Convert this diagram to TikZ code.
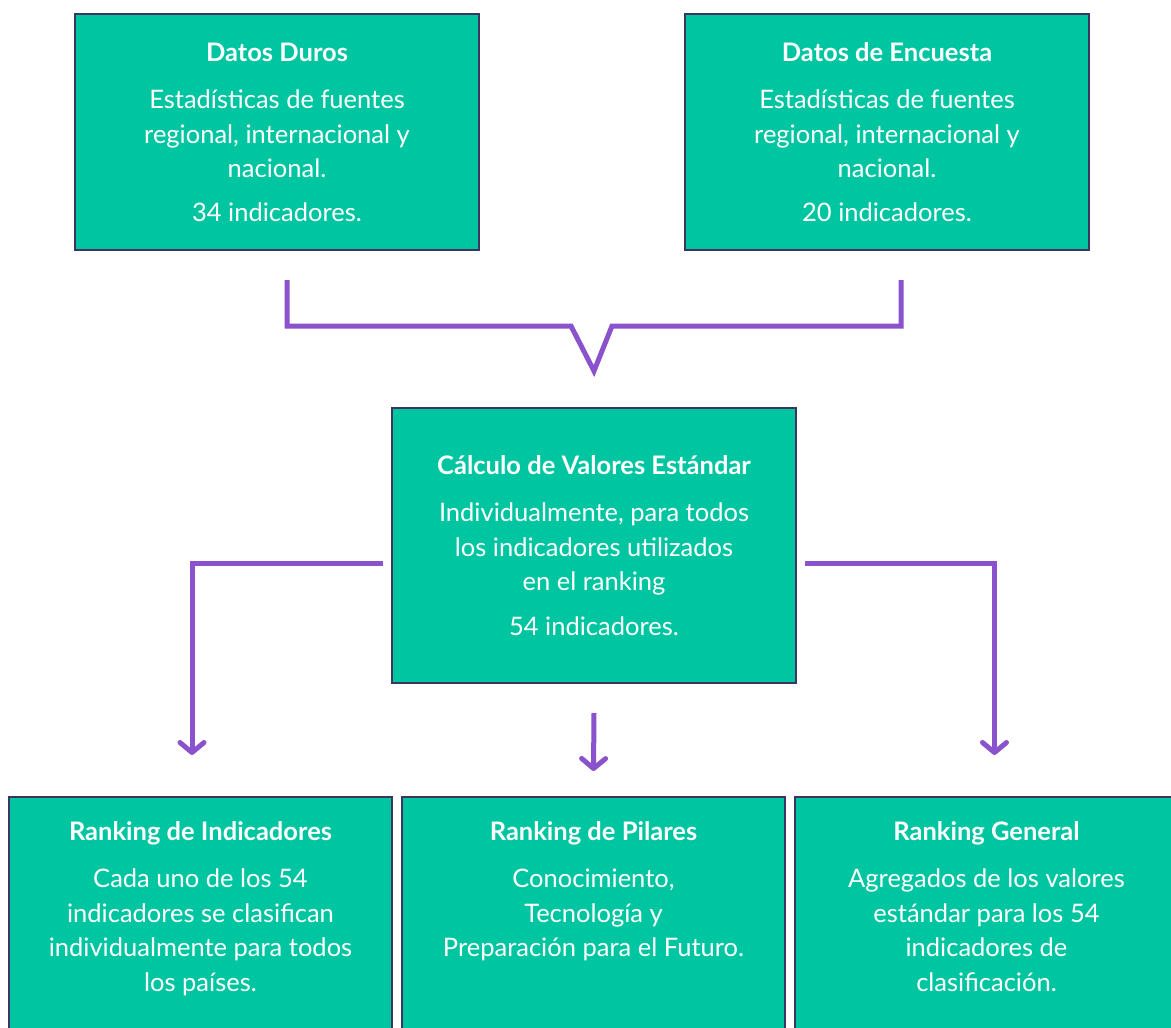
\documentclass[tikz,border=0pt]{standalone}
\usepackage{fontspec}
\setmainfont{Lato}
\usepackage{xcolor}
\usetikzlibrary{positioning,arrows.meta}
\definecolor{boxfill}{HTML}{00C5A1}
\definecolor{boxline}{HTML}{3B3564}
\definecolor{linkline}{HTML}{8A52CD}

\begin{document}
\begin{tikzpicture}[x=1pt,y=1pt,node distance=8pt]
\tikzset{boxnode/.style={draw=boxline,fill=boxfill,line width=2pt,minimum width=404pt,minimum height=236pt},
  boxtext/.style={text=white,align=center,inner sep=0pt,font=\fontsize{25.5}{34.5}\selectfont},
  link/.style={draw=linkline,line width=5pt,line join=miter},
  larrow/.style={link,-{Straight Barb[length=10pt,width=24pt,round]}}}

\useasboundingbox (0,0) rectangle (1171,-1028);

  \node(DD) [boxnode] at (277,-132) { };
  \node(DE) [boxnode,right=204pt of DD] { };
  \node(DDt) [boxtext] at (DD) {\textbf{Datos Duros}\\[13pt] Estadísticas de fuentes\\ regional, internacional y\\ nacional.\\[9pt] 34 indicadores.};
  \node(DEt) [boxtext] at (DE) {\textbf{Datos de Encuesta}\\[13pt] Estadísticas de fuentes\\ regional, internacional y\\ nacional.\\[9pt] 20 indicadores.};

  \node(CV) [boxnode,minimum height=275pt] at (594,-545.5) { };
  \node(CVt) [boxtext] at (CV) {\textbf{Cálculo de Valores Estándar}\\[13pt] Individualmente, para todos\\ los indicadores utilizados\\ en el ranking\\[10pt] 54 indicadores.};

  \node(RI) [boxnode,anchor=north,minimum width=383pt,minimum height=264pt] at (200.5,-796) { };
  \node(RP) [boxnode,right=8pt of RI,minimum width=383pt,minimum height=264pt] { };
  \node(RG) [boxnode,right=8pt of RP,minimum width=383pt,minimum height=264pt] { };
  \node(RIt) [boxtext,anchor=north,yshift=-25pt] at (RI.north) {\textbf{Ranking de Indicadores}\\[13pt] Cada uno de los 54\\ indicadores se clasifican\\ individualmente para todos\\ los países.};
  \node(RPt) [boxtext,anchor=north,yshift=-25pt] at (RP.north) {\textbf{Ranking de Pilares}\\[13pt] Conocimiento,\\ Tecnología y\\ Preparación para el Futuro.};
  \node(RGt) [boxtext,anchor=north,yshift=-25pt] at (RG.north) {\textbf{Ranking General}\\[13pt] Agregados de los valores\\ estándar para los 54\\ indicadores de\\ clasificación.};

  % ends of the connectors
  \coordinate (DDo) at ([xshift=10pt,yshift=-29pt]DD.south);
  \coordinate (DEo) at ([xshift=14pt,yshift=-29pt]DE.south);
  \coordinate (V) at ([yshift=36pt]CV.north);
  \coordinate (CLo) at ([xshift=-8pt,yshift=-17.5pt]CV.west);
  \coordinate (CRo) at ([xshift=8pt,yshift=-17.5pt]CV.east);
  \coordinate (CSo) at ([yshift=-29pt]CV.south);
  \coordinate (RIi) at ([xshift=-8.5pt,yshift=41pt]RI.north);
  \coordinate (RPi) at ([yshift=25pt]RP.north);
  \coordinate (RGi) at ([xshift=8pt,yshift=41pt]RG.north);

\draw[link] (DDo) |- ([xshift=-23pt,yshift=45pt]V) -- (V) -- ([xshift=18pt,yshift=45pt]V) -| (DEo);
\draw[larrow] (CLo) -| (RIi);
\draw[larrow] (CRo) -| (RGi);
\draw[larrow] (CSo) -- (RPi);
\end{tikzpicture}
\end{document}
